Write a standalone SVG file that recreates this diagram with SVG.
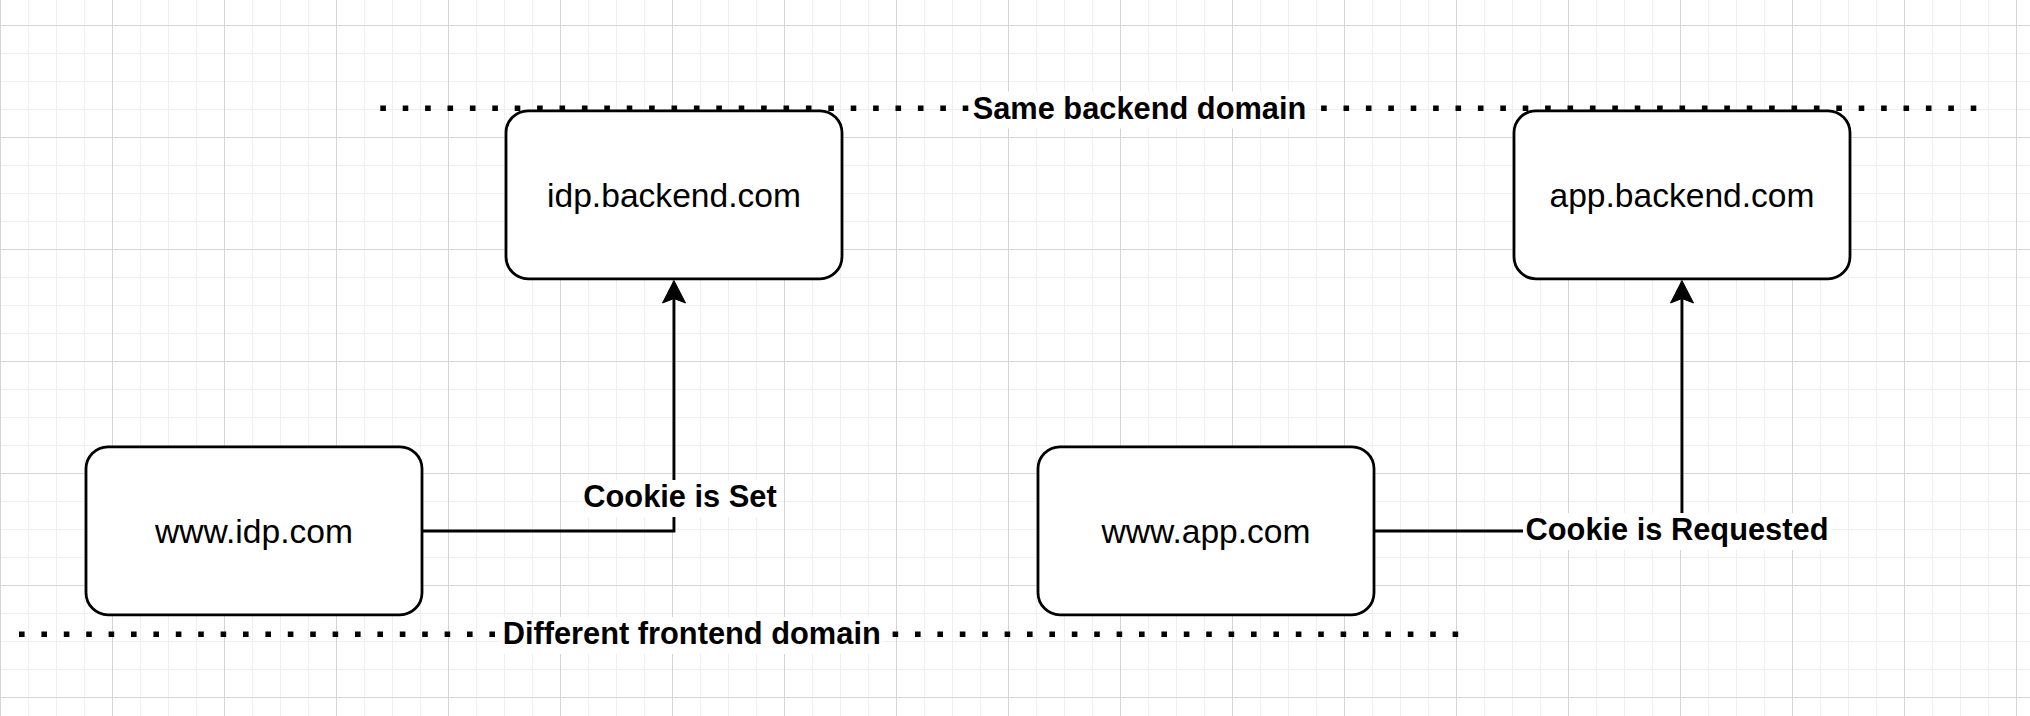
<svg xmlns="http://www.w3.org/2000/svg" width="2030" height="716" viewBox="0 0 2030 716">
  <style>
    .node rect { fill: #ffffff; stroke: #000000; stroke-width: 2.8; }
    .node text { font-family: "Liberation Sans", Arial, sans-serif; font-size: 33.6px; fill: #000000; text-anchor: middle; }
    .edge { fill: none; stroke: #000000; stroke-width: 2.8; }
    .arrow { fill: #000000; stroke: #000000; stroke-width: 1; stroke-linejoin: miter; }
    .dotted { fill: none; stroke: #000000; stroke-width: 5.6; stroke-dasharray: 5.6 16.8; }
    .lblbg { fill: #ffffff; stroke: none; }
    .lbl { font-family: "Liberation Sans", Arial, sans-serif; font-size: 30.8px; font-weight: bold; fill: #000000; text-anchor: middle; }
  </style>
  <defs>
    <pattern id="grid" x="0" y="25" width="112" height="112" patternUnits="userSpaceOnUse">
      <path d="M28.5,0 V112 M56.5,0 V112 M84.5,0 V112 M0,28.5 H112 M0,56.5 H112 M0,84.5 H112" stroke="#efefef" stroke-width="1" fill="none"/>
      <path d="M0.5,0 V112 M0,0.5 H112" stroke="#d4d4d4" stroke-width="1" fill="none"/>
    </pattern>
  </defs>
  <rect x="0" y="0" width="2030" height="716" fill="#ffffff"/>
  <rect x="0" y="0" width="2030" height="716" fill="url(#grid)"/>

  <g id="boundaries">
    <path class="dotted" d="M380.3,108.3 H1978"/>
    <path class="dotted" d="M19,634.3 H1459"/>
  </g>

  <g id="idp-backend" class="node">
    <rect x="506" y="110.8" width="336" height="168" rx="22" ry="22"/>
    <text x="674" y="206.7">idp.backend.com</text>
  </g>
  <g id="app-backend" class="node">
    <rect x="1514" y="110.8" width="336" height="168" rx="22" ry="22"/>
    <text x="1682" y="206.7">app.backend.com</text>
  </g>
  <g id="www-idp" class="node">
    <rect x="86" y="446.8" width="336" height="168" rx="22" ry="22"/>
    <text x="254" y="542.7">www.idp.com</text>
  </g>
  <g id="www-app" class="node">
    <rect x="1038" y="446.8" width="336" height="168" rx="22" ry="22"/>
    <text x="1206" y="542.7">www.app.com</text>
  </g>

  <g id="connectors">
    <path class="edge" d="M422,531 H674 V298"/>
    <polygon class="arrow" points="674,280.5 662.5,303 674,298.5 685.5,303"/>
    <path class="edge" d="M1374,531 H1682 V298"/>
    <polygon class="arrow" points="1682,280.5 1670.5,303 1682,298.5 1693.5,303"/>
  </g>

  <g id="labels">
    <rect class="lblbg" x="970" y="91.5" width="339" height="37"/>
    <text class="lbl" x="1139.5" y="118.5">Same backend domain</text>
    <rect class="lblbg" x="500" y="617" width="383" height="37"/>
    <text class="lbl" x="691.7" y="644.3">Different frontend domain</text>
    <rect class="lblbg" x="581" y="480" width="198" height="37"/>
    <text class="lbl" x="680" y="507">Cookie is Set</text>
    <rect class="lblbg" x="1523" y="513" width="308" height="37"/>
    <text class="lbl" x="1677" y="540">Cookie is Requested</text>
  </g>
</svg>
